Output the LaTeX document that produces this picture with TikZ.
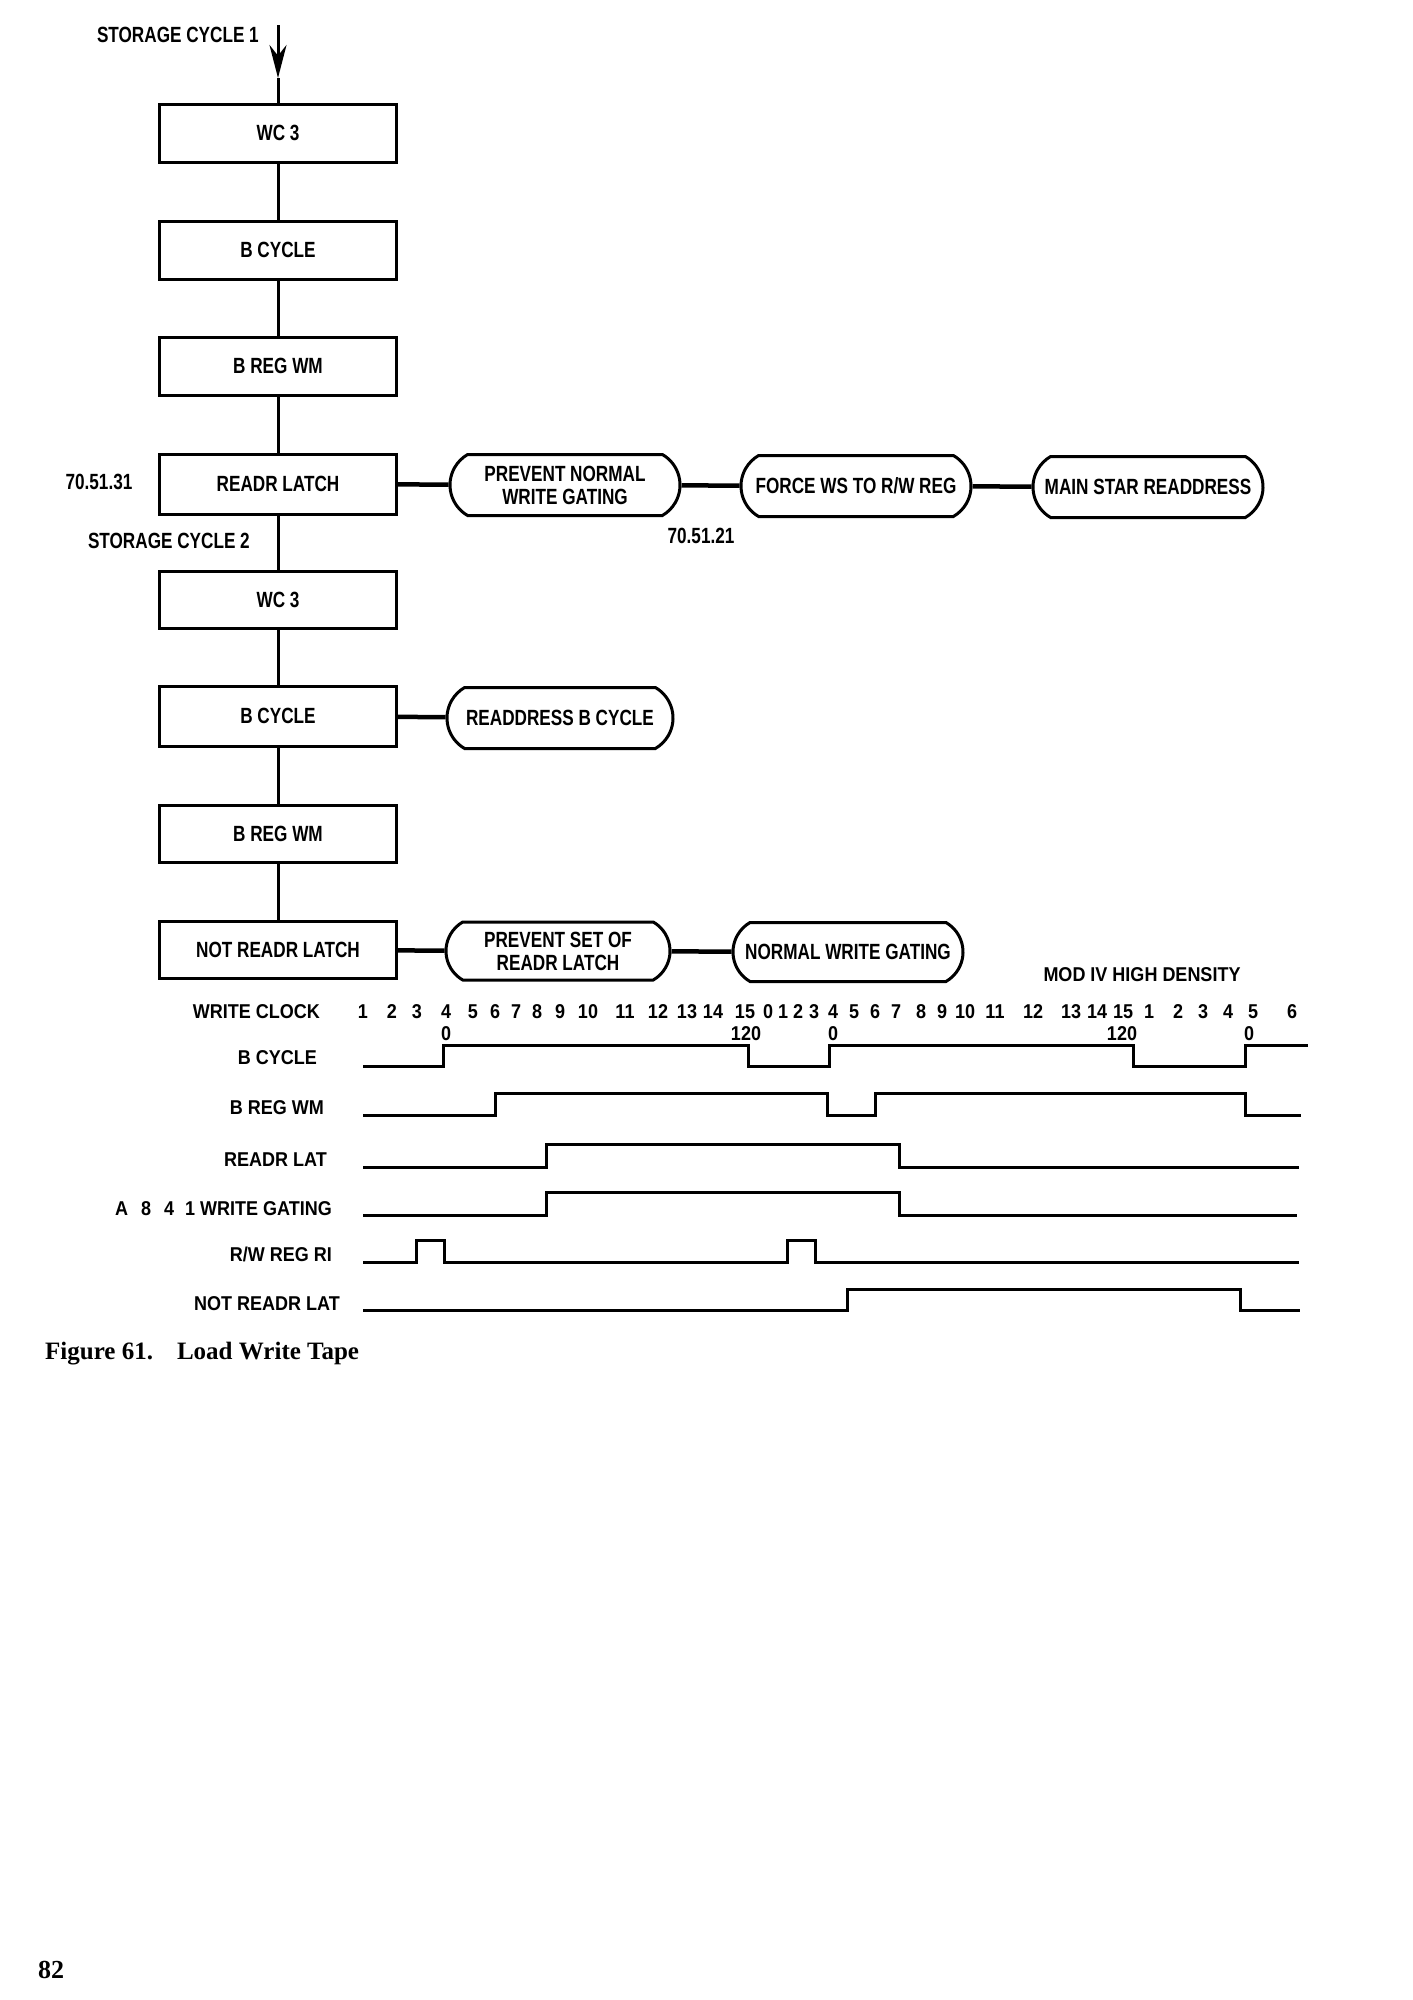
\documentclass[tikz,border=0pt]{standalone}
\usepackage{fontspec}
\setmainfont{Liberation Serif}
\newfontfamily\ibmfont[FakeStretch=0.78]{Liberation Sans}
\newfontfamily\ibmwide[FakeStretch=0.9]{Liberation Sans}
\usetikzlibrary{shapes.misc,arrows.meta}

\begin{document}
\begin{tikzpicture}[x=1pt,y=-1pt,
		blk/.style={draw, line width=3pt, minimum width=237pt, minimum height=58pt, inner sep=2pt, font=\ibmfont\bfseries\fontsize{22}{24}\selectfont},
		act/.style={draw, line width=3pt, rounded rectangle, rounded rectangle arc length=120, minimum width=232pt, minimum height=61pt, inner sep=1pt, align=center, font=\ibmfont\bfseries\fontsize{22}{23}\selectfont},
		txt/.style={inner sep=0pt, font=\ibmfont\bfseries\fontsize{22}{24}\selectfont},
		sig/.style={inner sep=0pt, anchor=east, font=\ibmwide\bfseries\fontsize{20}{22}\selectfont},
		clk/.style={inner sep=0pt, font=\ibmwide\bfseries\fontsize{20}{22}\selectfont},
		wire/.style={line width=3pt},
		link/.style={line width=4.5pt},
		wave/.style={line width=3pt, line join=miter}]
		\path[use as bounding box] (0,0) rectangle (1413,2000);
		\begin{scope}
			% storage cycle 1
			\node[txt, anchor=east] (sc1) at (259,35) {STORAGE CYCLE 1};
			\coordinate (in1) at (278,25);
			\coordinate (tip1) at (278,78);
			\node[blk] (wcA) at (278,133) {WC 3};
			\node[blk] (bcycA) at (278,250) {B CYCLE};
			\node[blk] (bregA) at (278,366) {B REG WM};
			\node[blk, minimum height=60pt] (readr) at (278,484) {READR LATCH};
			\node[txt] (ref1) at (99,482) {70.51.31};

			\draw[wire, -{Stealth[length=33pt, width=17pt]}] (in1) -- (tip1);
			\draw[wire] (tip1) -- (wcA); % in to WC 3
			\draw[wire] (wcA) -- (bcycA);
			\draw[wire] (bcycA) -- (bregA);
			\draw[wire] (bregA) -- (readr);

			\node[act] (prevnorm) at (565,485) {PREVENT NORMAL\\WRITE GATING};
			\node[act] (forcews) at (856,486) {FORCE WS TO R/W REG};
			\node[act] (mainstar) at (1148,487) {MAIN STAR READDRESS};
			\node[txt] (ref2) at (701,536) {70.51.21};

			\draw[link] (readr) -- (prevnorm);
			\draw[link] (prevnorm) -- (forcews);
			\draw[link] (forcews) -- (mainstar);

			% storage cycle 2
			\node[txt, anchor=east] (sc2) at (250,541) {STORAGE CYCLE 2};
			\node[blk, minimum height=57pt] (wcB) at (278,600) {WC 3};
			\node[blk, minimum height=60pt] (bcycB) at (278,716) {B CYCLE};
			\node[blk, minimum height=57pt] (bregB) at (278,834) {B REG WM};
			\node[blk, minimum height=57pt] (notreadr) at (278,950) {NOT READR LATCH};

			\draw[wire] (readr) -- (wcB);
			\draw[wire] (wcB) -- (bcycB);
			\draw[wire] (bcycB) -- (bregB);
			\draw[wire] (bregB) -- (notreadr);

			\node[act, minimum width=228pt] (readdr) at (560,718) {READDRESS B CYCLE};
			\draw[link] (bcycB) -- (readdr);

			\node[act, minimum width=226pt, minimum height=58pt] (prevset) at (558,951) {PREVENT SET OF\\READR LATCH};
			\node[act, minimum height=59pt] (normwg) at (848,952) {NORMAL WRITE GATING};
			\draw[link] (notreadr) -- (prevset);
			\draw[link] (prevset) -- (normwg);
		\end{scope}

		\begin{scope}
			% timing chart
			\node[inner sep=0pt, font=\ibmwide\bfseries\fontsize{20}{22}\selectfont] (mod) at (1142,975) {MOD IV HIGH DENSITY};

			\node[sig] (lclk) at (320,1012) {WRITE CLOCK};
			\node[sig] (lbcyc) at (317,1058) {B CYCLE};
			\node[sig] (lbreg) at (324,1108) {B REG WM};
			\node[sig] (lreadr) at (327,1160) {READR LAT};
			\node[sig] (lgate) at (332,1209) {A\hspace{13pt}8\hspace{13pt}4\hspace{11pt}1 WRITE GATING};
			\node[sig] (lrw) at (332,1254) {R/W REG RI};
			\node[sig] (lnot) at (340,1304) {NOT READR LAT};

			\node[clk] (c1) at (363,1012) {1};
			\node[clk] (c2) at (392,1012) {2};
			\node[clk] (c3) at (417,1012) {3};
			\node[clk] (c4) at (446,1012) {4};
			\node[clk] (c5) at (473,1012) {5};
			\node[clk] (c6) at (495,1012) {6};
			\node[clk] (c7) at (516,1012) {7};
			\node[clk] (c8) at (537,1012) {8};
			\node[clk] (c9) at (560,1012) {9};
			\node[clk] (c10) at (588,1012) {10};
			\node[clk] (c11) at (625,1012) {11};
			\node[clk] (c12) at (658,1012) {12};
			\node[clk] (c13) at (687,1012) {13};
			\node[clk] (c14) at (713,1012) {14};
			\node[clk] (c15) at (745,1012) {15};
			\node[clk] (c16) at (768,1012) {0};
			\node[clk] (c17) at (783,1012) {1};
			\node[clk] (c18) at (798,1012) {2};
			\node[clk] (c19) at (814,1012) {3};
			\node[clk] (c20) at (833,1012) {4};
			\node[clk] (c21) at (854,1012) {5};
			\node[clk] (c22) at (875,1012) {6};
			\node[clk] (c23) at (896,1012) {7};
			\node[clk] (c24) at (921,1012) {8};
			\node[clk] (c25) at (942,1012) {9};
			\node[clk] (c26) at (965,1012) {10};
			\node[clk] (c27) at (995,1012) {11};
			\node[clk] (c28) at (1033,1012) {12};
			\node[clk] (c29) at (1071,1012) {13};
			\node[clk] (c30) at (1097,1012) {14};
			\node[clk] (c31) at (1123,1012) {15};
			\node[clk] (c32) at (1149,1012) {1};
			\node[clk] (c33) at (1178,1012) {2};
			\node[clk] (c34) at (1203,1012) {3};
			\node[clk] (c35) at (1228,1012) {4};
			\node[clk] (c36) at (1253,1012) {5};
			\node[clk] (c37) at (1292,1012) {6};

			\node[clk] (d1) at (446,1034) {0};
			\node[clk] (d2) at (746,1034) {120};
			\node[clk] (d3) at (833,1034) {0};
			\node[clk] (d4) at (1122,1034) {120};
			\node[clk] (d5) at (1249,1034) {0};

			\draw[wave] (363,1066) -- (443,1066) -- (443,1045) -- (748,1045) -- (748,1066) -- (829,1066) -- (829,1045) -- (1133,1045) -- (1133,1066) -- (1245,1066) -- (1245,1045) -- (1308,1045); % B CYCLE
			\draw[wave] (363,1115) -- (495,1115) -- (495,1093) -- (827,1093) -- (827,1115) -- (875,1115) -- (875,1093) -- (1245,1093) -- (1245,1115) -- (1301,1115); % B REG WM
			\draw[wave] (363,1167) -- (546,1167) -- (546,1144) -- (899,1144) -- (899,1167) -- (1299,1167); % READR LAT
			\draw[wave] (363,1215) -- (546,1215) -- (546,1192) -- (899,1192) -- (899,1215) -- (1297,1215); % write gating
			\draw[wave] (363,1262) -- (416,1262) -- (416,1240) -- (444,1240) -- (444,1262) -- (787,1262) -- (787,1240) -- (815,1240) -- (815,1262) -- (1299,1262); % R/W REG RI
			\draw[wave] (363,1310) -- (847,1310) -- (847,1289) -- (1240,1289) -- (1240,1310) -- (1300,1310); % NOT READR LAT
		\end{scope}

		\node[anchor=base west, inner sep=0pt, font=\bfseries\fontsize{25}{28}\selectfont] (cap) at (45,1359) {Figure 61.\hspace{24pt}Load Write Tape};
		\node[anchor=base west, inner sep=0pt, font=\bfseries\fontsize{26}{30}\selectfont] (page) at (38,1978) {82};
	\end{tikzpicture}
\end{document}
